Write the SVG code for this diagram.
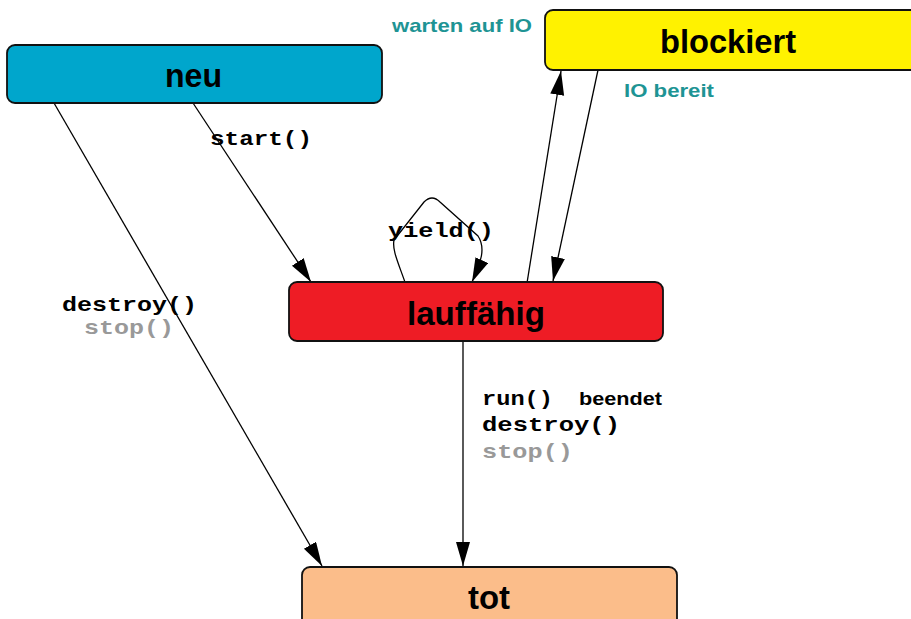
<svg xmlns="http://www.w3.org/2000/svg" width="911" height="619" viewBox="0 0 911 619">
<style>
.box{stroke:#111;stroke-width:1.8}
.lbl{font-family:"Liberation Sans",Arial,sans-serif;font-weight:bold;font-size:34px;fill:#000}
.teal{font-family:"Liberation Sans",Arial,sans-serif;font-weight:bold;font-size:19px;fill:#1e9494}
.code{font-family:"Liberation Mono","Courier New",monospace;font-weight:bold;font-size:21px;fill:#000}
.gray{fill:#999}
.sans{font-family:"Liberation Sans",Arial,sans-serif;font-weight:bold;font-size:19px;fill:#000}
.edge{fill:none;stroke:#000;stroke-width:1.3}
</style>
<defs>
<marker id="ah" markerUnits="userSpaceOnUse" markerWidth="26" markerHeight="16" refX="24" refY="7" orient="auto">
<path d="M0,0 L24,7 L0,14 z" fill="#000"/>
</marker>
</defs>
<rect width="911" height="619" fill="#fff"/>
<g id="connectors">
<line class="edge" x1="54" y1="103" x2="322" y2="566" marker-end="url(#ah)"/>
<line class="edge" x1="193" y1="103" x2="311" y2="282" marker-end="url(#ah)"/>
<path class="edge" d="M406,285 C398,262 392,250 394,240 L424,202 Q432,194 440,202 L478,236 C486,248 481,262 472,282" marker-end="url(#ah)"/>
<line class="edge" x1="527" y1="283" x2="561" y2="71" marker-end="url(#ah)"/>
<line class="edge" x1="598" y1="70" x2="553" y2="281" marker-end="url(#ah)"/>
<line class="edge" x1="463" y1="341" x2="463" y2="566" marker-end="url(#ah)"/>
</g>
<g id="labels">
<text class="teal" x="392" y="32" textLength="140" lengthAdjust="spacingAndGlyphs">warten auf IO</text>
<text class="teal" x="624" y="97" textLength="90" lengthAdjust="spacingAndGlyphs">IO bereit</text>
<text class="code" x="210" y="145" textLength="102" lengthAdjust="spacingAndGlyphs">start()</text>
<text class="code" x="388" y="237" textLength="106" lengthAdjust="spacingAndGlyphs">yield()</text>
<text class="code" x="62" y="311" textLength="135" lengthAdjust="spacingAndGlyphs">destroy()</text>
<text class="code gray" x="84" y="334" textLength="90" lengthAdjust="spacingAndGlyphs">stop()</text>
<text class="code" x="482" y="405" textLength="71" lengthAdjust="spacingAndGlyphs">run()</text>
<text class="sans" x="579" y="405" textLength="83" lengthAdjust="spacingAndGlyphs">beendet</text>
<text class="code" x="482" y="431" textLength="138" lengthAdjust="spacingAndGlyphs">destroy()</text>
<text class="code gray" x="482" y="458" textLength="91" lengthAdjust="spacingAndGlyphs">stop()</text>
</g>
<g id="neu">
<rect class="box" x="7" y="45" width="375" height="58" rx="8" fill="#00a6cc"/>
<text class="lbl" x="165" y="87" textLength="57" lengthAdjust="spacingAndGlyphs">neu</text>
</g>
<g id="blockiert">
<rect class="box" x="545" y="10" width="380" height="60" rx="8" fill="#fff200"/>
<text class="lbl" x="660" y="53" textLength="136" lengthAdjust="spacingAndGlyphs">blockiert</text>
</g>
<g id="lauffaehig">
<rect class="box" x="289" y="282" width="374" height="59" rx="8" fill="#ee1c25"/>
<text class="lbl" x="407" y="325" textLength="138" lengthAdjust="spacingAndGlyphs">lauffähig</text>
</g>
<g id="tot">
<rect class="box" x="302" y="567" width="375" height="70" rx="8" fill="#fbbd8a"/>
<text class="lbl" x="468" y="609" textLength="42" lengthAdjust="spacingAndGlyphs">tot</text>
</g>
</svg>
